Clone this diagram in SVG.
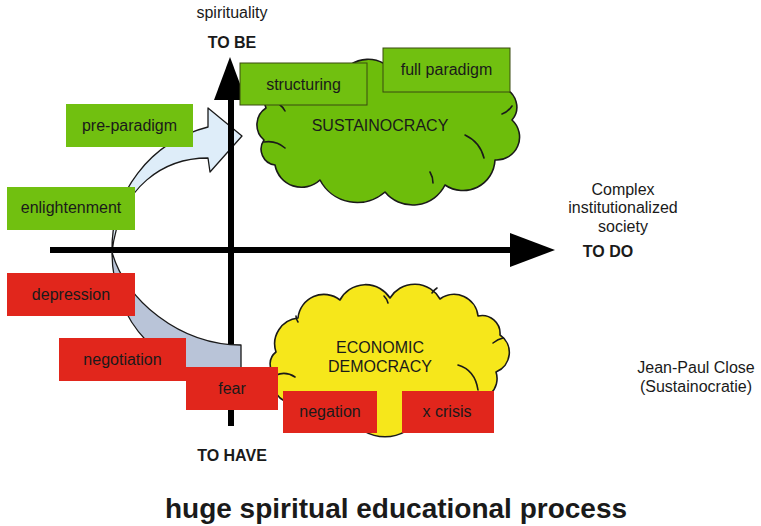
<svg xmlns="http://www.w3.org/2000/svg" width="761" height="526" viewBox="0 0 761 526">
<style>
text{font-family:"Liberation Sans",Arial,sans-serif;fill:#1a1a1a}
.lbl{font-size:16px;text-anchor:middle}
.b{font-weight:bold}
.gbox{fill:#71c010}
.gboxb{fill:#71c010;stroke:#3a4a10;stroke-width:1}
.rbox{fill:#e1261c}
.cloud{stroke:#1a1a1a;stroke-width:1.6;stroke-linejoin:round}
.crease{fill:none;stroke:#1a1a1a;stroke-width:1.6;stroke-linecap:round}
.edge{stroke:#1a1a1a;stroke-width:1.3;stroke-linejoin:round}
</style>
<rect width="761" height="526" fill="#ffffff"/>

<g id="cycle-arrow-front">
<path class="edge" fill="#deedf9" d="M112,252 A128,126 0 0 1 208,127 L208,108 L242,136 L210,172 L208,158 C165,158 120,185 112,252 Z"/>
</g>

<g id="connectors">
<path d="M228,100 L234,100 L234,426 L228,426 Z" fill="#000"/>
<path d="M230,57 L246,100 L214,100 Z" fill="#000"/>
<path d="M50,247 L510,247 L510,253 L50,253 Z" fill="#000"/>
<path d="M555,250 L510,233 L510,267 Z" fill="#000"/>
</g>

<g id="cycle-arrow-back">
<path class="edge" fill="#b9c4d8" d="M112,252 C112,320 160,378 241,378 L241,345 C180,345 125,300 112,252 Z"/>
</g>

<g id="sustainocracy">
<path class="cloud" fill="#6dbd0b" d="M266,108 A24,24 0 0 1 292,75 A31,31 0 0 1 340,76 A32,32 0 0 1 395,74 A32,32 0 0 1 450,62 A34,34 0 0 1 503,88 A20,20 0 0 1 512,120 A23,23 0 0 1 495,160 A32,32 0 0 1 445,185 A36,36 0 0 1 385,192 A42,42 0 0 1 320,180 A27,27 0 0 1 275,165 A16,16 0 0 1 264,140 A20,20 0 0 1 266,108 Z"/>
<path class="crease" d="M264,142 Q276,140 285,148 M280,105 Q283,107 285,111 M465,135 Q480,142 484,158 M502,114 Q508,112 512,106 M430,172 Q433,177 433,183"/>
<text class="lbl" x="380" y="131">SUSTAINOCRACY</text>
</g>

<g id="economic-democracy">
<path class="cloud" fill="#f6e71b" d="M276,352 A26,26 0 0 1 298,318 A26,26 0 0 1 340,300 A29,29 0 0 1 390,298 A29,29 0 0 1 440,299 A24,24 0 0 1 478,316 A18,18 0 0 1 500,335 A21,21 0 0 1 496,372 A21,21 0 0 1 468,398 A31,31 0 0 1 420,418 A42,42 0 0 1 350,418 A32,32 0 0 1 295,402 A19,19 0 0 1 275,375 A15,15 0 0 1 276,352 Z"/>
<path class="crease" d="M276,375 Q286,371 295,377 M458,365 Q475,370 478,390 M493,343 Q498,339 503,338 M384,296 Q387,299 388,303 M437,288 Q434,290 432,293 M296,316 Q296,319 298,322"/>
<text class="lbl" x="380" y="353">ECONOMIC</text>
<text class="lbl" x="380" y="372">DEMOCRACY</text>
</g>

<g id="structuring"><rect class="gboxb" x="240" y="63" width="127" height="42"/><text class="lbl" x="303.5" y="90">structuring</text></g>
<g id="full-paradigm"><rect class="gboxb" x="383" y="48" width="127" height="44"/><text class="lbl" x="446.5" y="75">full paradigm</text></g>
<g id="pre-paradigm"><rect class="gbox" x="66" y="104" width="127" height="43"/><text class="lbl" x="129.5" y="131">pre-paradigm</text></g>
<g id="enlightenment"><rect class="gbox" x="7" y="187" width="128" height="43"/><text class="lbl" x="71" y="213">enlightenment</text></g>

<g id="depression"><rect class="rbox" x="7" y="273" width="128" height="43"/><text class="lbl" x="71" y="300">depression</text></g>
<g id="negotiation"><rect class="rbox" x="59" y="338" width="127" height="43"/><text class="lbl" x="122.5" y="365">negotiation</text></g>
<g id="fear"><rect class="rbox" x="186" y="367" width="92" height="43"/><text class="lbl" x="232" y="394">fear</text></g>
<g id="negation"><rect class="rbox" x="283" y="391" width="94" height="42"/><text class="lbl" x="330" y="417">negation</text></g>
<g id="x-crisis"><rect class="rbox" x="402" y="391" width="92" height="42"/><text class="lbl" x="447" y="417">x crisis</text></g>

<g id="axis-labels">
<text class="lbl" x="232" y="18">spirituality</text>
<text class="lbl b" x="232" y="48">TO BE</text>
<text class="lbl b" x="232" y="461">TO HAVE</text>
<text class="lbl" x="623" y="195">Complex</text>
<text class="lbl" x="623" y="213">institutionalized</text>
<text class="lbl" x="623" y="232">society</text>
<text class="lbl b" x="608" y="257">TO DO</text>
<text class="lbl" x="696" y="373">Jean-Paul Close</text>
<text class="lbl" x="696" y="392">(Sustainocratie)</text>
</g>

<g id="title">
<text class="b" x="396" y="518" font-size="28" text-anchor="middle">huge spiritual educational process</text>
</g>
</svg>
